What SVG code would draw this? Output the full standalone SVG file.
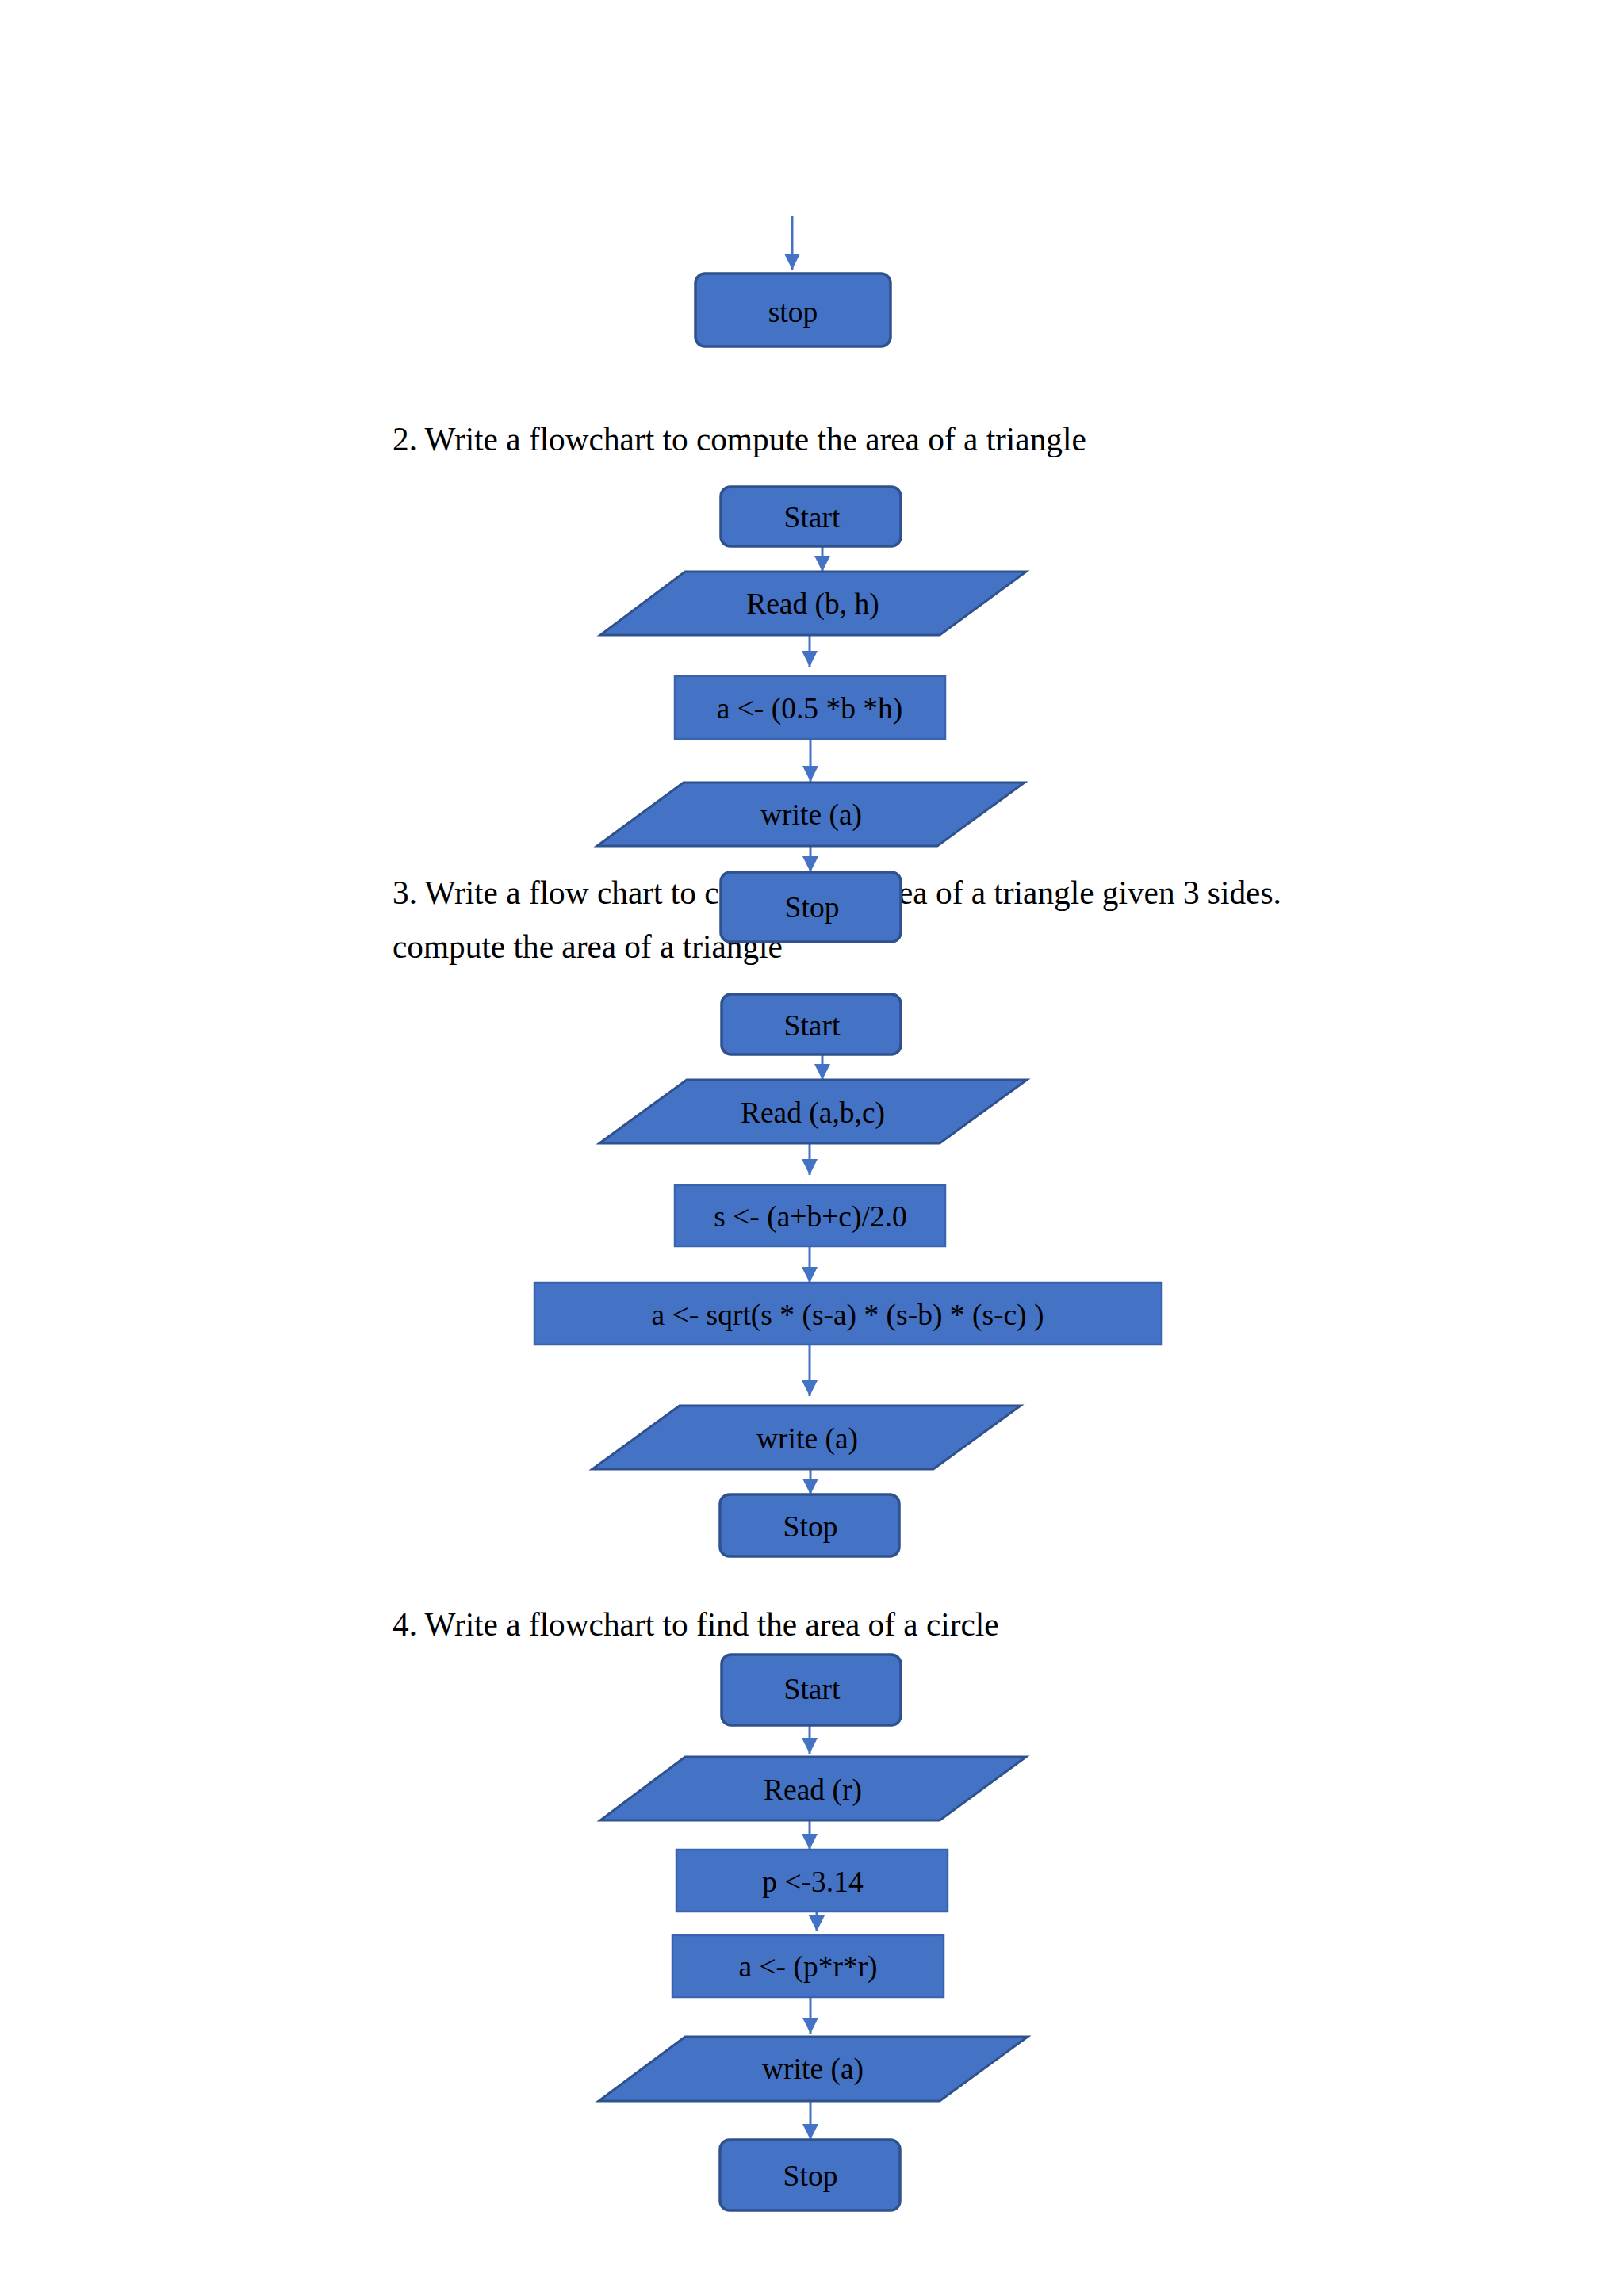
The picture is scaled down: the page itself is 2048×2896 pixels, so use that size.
<svg xmlns="http://www.w3.org/2000/svg" width="2048" height="2896" viewBox="0 0 2048 2896">
<style>
.term{fill:#4472C4;stroke:#2F528F;stroke-width:3.5}
.proc{fill:#4472C4;stroke:#3A63AE;stroke-width:2.5}
.io{fill:#4472C4;stroke:#2F528F;stroke-width:3}
.lbl{font-family:"Liberation Serif","Times New Roman",serif;font-size:37.5px;fill:#000;text-anchor:middle}
.head{font-family:"Liberation Serif","Times New Roman",serif;font-size:41.3px;fill:#000}
.conn{stroke:#4472C4;stroke-width:3;fill:none;marker-end:url(#arr)}
</style>
<defs>
<marker id="arr" markerUnits="userSpaceOnUse" markerWidth="20" markerHeight="20" refX="20" refY="10" orient="auto">
<path d="M0,0 L20,10 L0,20 z" fill="#4472C4"/>
</marker>
</defs>
<rect width="2048" height="2896" fill="#fff"/>

<g id="headings">
<text class="head" x="495" y="568">2. Write a flowchart to compute the area of a triangle</text>
<text class="head" x="495" y="1140">3. Write a flow chart to c</text>
<text class="head" x="1133" y="1140">ea of a triangle given 3 sides.</text>
<text class="head" x="495" y="1208">compute the area of a triangle</text>
<text class="head" x="495" y="2063">4. Write a flowchart to find the area of a circle</text>
</g>

<g id="connectors">
<line class="conn" x1="999" y1="273" x2="999" y2="340"/>
<line class="conn" x1="1037" y1="689" x2="1037" y2="721"/>
<line class="conn" x1="1021" y1="801" x2="1021" y2="841"/>
<line class="conn" x1="1022" y1="932" x2="1022" y2="986"/>
<line class="conn" x1="1022" y1="1067" x2="1022" y2="1100"/>
<line class="conn" x1="1037" y1="1330" x2="1037" y2="1362"/>
<line class="conn" x1="1021" y1="1442" x2="1021" y2="1482"/>
<line class="conn" x1="1021" y1="1572" x2="1021" y2="1618"/>
<line class="conn" x1="1021" y1="1696" x2="1021" y2="1761"/>
<line class="conn" x1="1022" y1="1853" x2="1022" y2="1885"/>
<line class="conn" x1="1021" y1="2176" x2="1021" y2="2212"/>
<line class="conn" x1="1021" y1="2296" x2="1021" y2="2333"/>
<line class="conn" x1="1030" y1="2411" x2="1030" y2="2436"/>
<line class="conn" x1="1022" y1="2519" x2="1022" y2="2565"/>
<line class="conn" x1="1022" y1="2650" x2="1022" y2="2699"/>
</g>

<g id="n1-stop"><rect class="term" x="877" y="345" width="246" height="92" rx="12"/><text class="lbl" x="1000" y="406">stop</text></g>

<g id="n2-start"><rect class="term" x="909" y="614" width="227" height="75" rx="12"/><text class="lbl" x="1024" y="665">Start</text></g>
<g id="n2-read"><polygon class="io" points="864,721 1294,721 1185,801 757,801"/><text class="lbl" x="1025" y="774">Read (b, h)</text></g>
<g id="n2-calc"><rect class="proc" x="851" y="853" width="341" height="79"/><text class="lbl" x="1021" y="906">a &lt;- (0.5 *b *h)</text></g>
<g id="n2-write"><polygon class="io" points="862,987 1292,987 1182,1067 753,1067"/><text class="lbl" x="1023" y="1040">write (a)</text></g>
<g id="n2-stop"><rect class="term" x="909" y="1100" width="227" height="88" rx="12"/><text class="lbl" x="1024" y="1157">Stop</text></g>

<g id="n3-start"><rect class="term" x="910" y="1254" width="226" height="76" rx="12"/><text class="lbl" x="1024" y="1306">Start</text></g>
<g id="n3-read"><polygon class="io" points="866,1362 1295,1362 1185,1442 756,1442"/><text class="lbl" x="1025" y="1416">Read (a,b,c)</text></g>
<g id="n3-s"><rect class="proc" x="851" y="1495" width="341" height="77"/><text class="lbl" x="1022" y="1547">s &lt;- (a+b+c)/2.0</text></g>
<g id="n3-area"><rect class="proc" x="674" y="1618" width="791" height="78"/><text class="lbl" x="1069" y="1671">a &lt;- sqrt(s * (s-a) * (s-b) * (s-c) )</text></g>
<g id="n3-write"><polygon class="io" points="857,1773 1287,1773 1177,1853 747,1853"/><text class="lbl" x="1018" y="1827">write (a)</text></g>
<g id="n3-stop"><rect class="term" x="908" y="1885" width="226" height="78" rx="12"/><text class="lbl" x="1022" y="1938">Stop</text></g>

<g id="n4-start"><rect class="term" x="910" y="2087" width="226" height="89" rx="12"/><text class="lbl" x="1024" y="2143">Start</text></g>
<g id="n4-read"><polygon class="io" points="864,2216 1294,2216 1185,2296 757,2296"/><text class="lbl" x="1025" y="2270">Read (r)</text></g>
<g id="n4-p"><rect class="proc" x="853" y="2333" width="342" height="78"/><text class="lbl" x="1025" y="2386">p &lt;-3.14</text></g>
<g id="n4-calc"><rect class="proc" x="848" y="2441" width="342" height="78"/><text class="lbl" x="1019" y="2493">a &lt;- (p*r*r)</text></g>
<g id="n4-write"><polygon class="io" points="864,2569 1296,2569 1185,2650 755,2650"/><text class="lbl" x="1025" y="2622">write (a)</text></g>
<g id="n4-stop"><rect class="term" x="908" y="2699" width="227" height="89" rx="12"/><text class="lbl" x="1022" y="2757">Stop</text></g>
</svg>
